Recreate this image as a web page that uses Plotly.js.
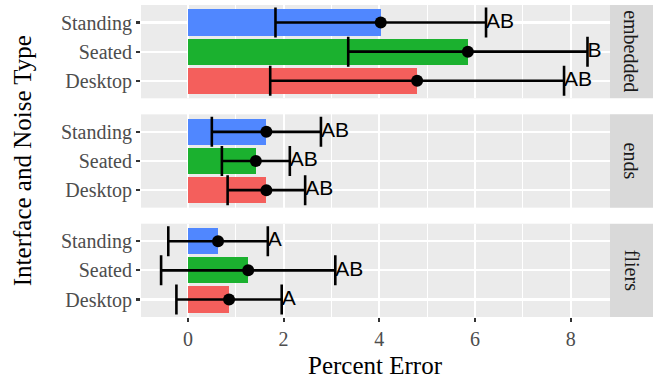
<!DOCTYPE html>
<html>
<head>
<meta charset="utf-8">
<script src="https://cdn.plot.ly/plotly-3.0.1.min.js"></script>
<style>html,body{margin:0;padding:0;background:#fff;}#chart{width:661px;height:386px;}</style>
</head>
<body>
<div id="chart"></div>
<script>
// ---- data ----
const categories = ['Desktop', 'Seated', 'Standing'];
const noiseTypes = ['embedded', 'ends', 'fliers'];
const meanEmbedded = [4.79, 5.85, 4.03];
const meanEnds = [1.64, 1.42, 1.64];
const meanFliers = [0.86, 1.26, 0.63];
const errEmbedded = [3.07, 2.50, 2.20];
const errEnds = [0.81, 0.71, 1.14];
const errFliers = [1.10, 1.82, 1.04];
const lettersEmbedded = ['AB', 'B', 'AB'];
const lettersEnds = ['AB', 'AB', 'AB'];
const lettersFliers = ['A', 'AB', 'A'];
const xTicks = [0, 2, 4, 6, 8];

// ---- styling ----
const barColors = ['#F45F5C', '#1BB12F', '#5087FF'];
const serif = 'Liberation Serif, Times New Roman, serif';
const sans = 'Liberation Sans, Arial, sans-serif';

const panels = [
  {name: noiseTypes[0], mean: meanEmbedded, err: errEmbedded, letters: lettersEmbedded},
  {name: noiseTypes[1], mean: meanEnds, err: errEnds, letters: lettersEnds},
  {name: noiseTypes[2], mean: meanFliers, err: errFliers, letters: lettersFliers}
];

const H = 0.2991, GAP = 0.05135;
const xDomEnd = 0.916;
const traces = [];
const layout = {
  width: 661, height: 386,
  margin: {l: 141, r: 8, t: 5, b: 69},
  paper_bgcolor: '#FFFFFF',
  plot_bgcolor: '#EBEBEB',
  showlegend: false,
  bargap: 0,
  shapes: [],
  annotations: []
};

panels.forEach((p, i) => {
  const k = i + 1;
  const xa = k === 1 ? 'x' : 'x' + k;
  const ya = k === 1 ? 'y' : 'y' + k;
  const top = 1 - i * (H + GAP);
  const bottom = top - H;
  const upper = p.mean.map((m, j) => m + p.err[j]);

  traces.push({
    type: 'bar', orientation: 'h', x: p.mean, y: categories,
    width: 0.9, marker: {color: barColors, line: {width: 0}},
    xaxis: xa, yaxis: ya, hoverinfo: 'skip'
  });
  traces.push({
    type: 'scatter', mode: 'markers', x: p.mean, y: categories,
    marker: {color: '#000000', size: 12},
    error_x: {type: 'data', array: p.err, symmetric: true, color: '#000000', thickness: 2.6, width: 15},
    xaxis: xa, yaxis: ya, hoverinfo: 'skip', cliponaxis: false
  });
  traces.push({
    type: 'scatter', mode: 'text', x: upper, y: categories, text: p.letters,
    textposition: 'middle right',
    textfont: {family: sans, size: 21, color: '#000000'},
    xaxis: xa, yaxis: ya, hoverinfo: 'skip', cliponaxis: false
  });

  layout[k === 1 ? 'xaxis' : 'xaxis' + k] = {
    domain: [0, xDomEnd], anchor: ya,
    range: [-0.98, 8.82], tickvals: xTicks, ticktext: xTicks.map(String),
    showticklabels: k === 3, ticks: k === 3 ? 'outside' : '',
    ticklen: 4, tickwidth: 2.2, tickcolor: '#333333',
    tickfont: {family: serif, size: 20, color: '#4D4D4D'},
    showgrid: true, gridcolor: '#FFFFFF', gridwidth: 2.2,
    minor: {dtick: 1, tick0: 1, showgrid: true, gridcolor: '#FFFFFF', gridwidth: 1.1},
    zeroline: false, showline: false, fixedrange: true
  };
  layout[k === 1 ? 'yaxis' : 'yaxis' + k] = {
    domain: [bottom, top], anchor: xa,
    type: 'category', categoryorder: 'array', categoryarray: categories,
    range: [-0.6, 2.6],
    ticks: 'outside', ticklen: 4, tickwidth: 2.2, tickcolor: '#333333',
    tickfont: {family: serif, size: 20, color: '#4D4D4D'},
    showgrid: true, gridcolor: '#FFFFFF', gridwidth: 2.2,
    zeroline: false, showline: false, fixedrange: true
  };

  layout.shapes.push({
    type: 'rect', xref: 'paper', yref: 'paper',
    x0: xDomEnd, x1: 1, y0: bottom, y1: top,
    fillcolor: '#D9D9D9', line: {width: 0}, layer: 'below'
  });
  layout.annotations.push({
    xref: 'paper', yref: 'paper', x: (xDomEnd + 1) / 2, y: (top + bottom) / 2,
    text: p.name, showarrow: false, textangle: 90,
    font: {family: serif, size: 20, color: '#1A1A1A'},
    xanchor: 'center', yanchor: 'middle'
  });
});

layout.annotations.push({
  xref: 'paper', yref: 'paper', x: xDomEnd / 2, y: -0.155,
  text: 'Percent Error', showarrow: false,
  font: {family: serif, size: 25, color: '#000000'},
  xanchor: 'center', yanchor: 'middle'
});
layout.annotations.push({
  xref: 'paper', yref: 'paper', x: -0.232, y: 0.5,
  text: 'Interface and Noise Type', showarrow: false, textangle: -90,
  font: {family: serif, size: 25, color: '#000000'},
  xanchor: 'center', yanchor: 'middle'
});

Plotly.newPlot('chart', traces, layout, {staticPlot: true, displayModeBar: false});
</script>
</body>
</html>
